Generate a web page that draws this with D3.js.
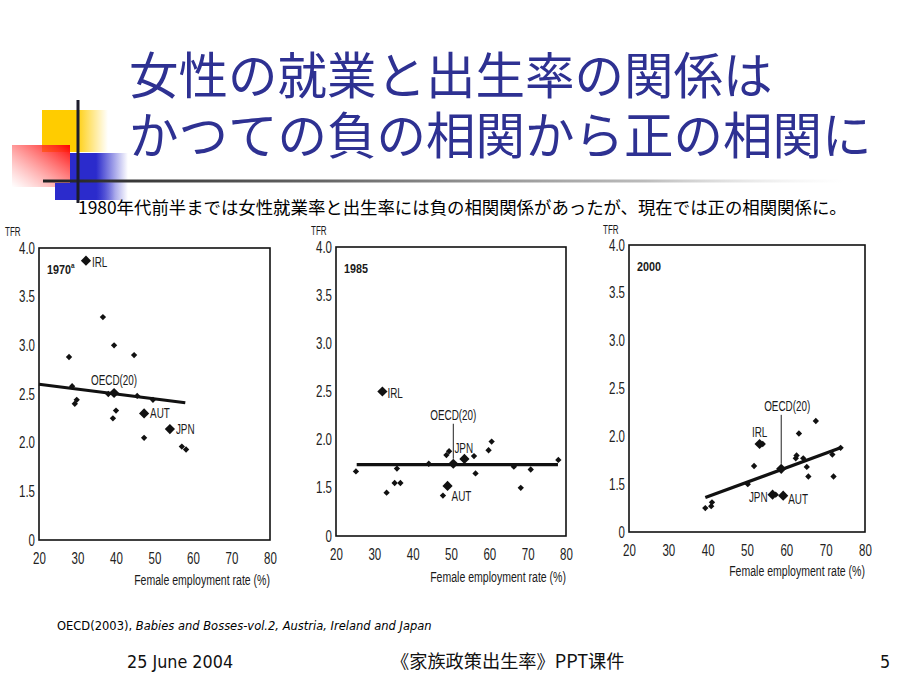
<!DOCTYPE html>
<html><head><meta charset="utf-8">
<script src="https://cdn.jsdelivr.net/npm/d3@7"></script>
<style>
html,body{margin:0;padding:0;background:#fff;}
svg{display:block;}
</style></head>
<body>
<svg id="slide" width="920" height="690"></svg>
<script>
// ---------------- data ----------------
const titleLines = ["女性の就業と出生率の関係は", "かつての負の相関から正の相関に"];
const subtitle = "1980年代前半までは女性就業率と出生率には負の相関関係があったが、現在では正の相関関係に。";
const xTicks = [20, 30, 40, 50, 60, 70, 80];
const yTicks = [1, 1.5, 2, 2.5, 3, 3.5, 4];
const yTickLabels = ["0", "1.5", "2.0", "2.5", "3.0", "3.5", "4.0"];
const years = ["1970", "1985", "2000"];
const xTitle = "Female employment rate (%)";
const yTitle = "TFR";

const pts1970 = [[36.6,3.29],[39.5,3.00],[27.8,2.88],[44.7,2.90],[28.6,2.58],[29.3,2.40],[29.8,2.44],[38.0,2.50],[40.0,2.33],[39.2,2.25],[45.5,2.48],[49.6,2.44],[47.3,2.05],[57.1,1.96],[58.2,1.93]];
const key1970 = [{c:"IRL",x:32.2,y:3.87},{c:"OECD(20)",x:39.5,y:2.51},{c:"AUT",x:47.3,y:2.30},{c:"JPN",x:54.0,y:2.14}];
const fit1970 = [[20,2.60],[58,2.41]];

const pts1985 = [[25.2,1.67],[33.2,1.45],[35.3,1.55],[36.8,1.55],[35.9,1.70],[44.2,1.75],[47.9,1.42],[48.8,1.84],[49.5,1.88],[56.0,1.83],[56.4,1.65],[59.8,1.89],[60.6,1.98],[66.4,1.72],[68.2,1.50],[70.8,1.69],[78.0,1.79]];
const key1985 = [{c:"IRL",x:32.1,y:2.50},{c:"OECD(20)",x:50.6,y:1.75},{c:"JPN",x:53.5,y:1.80},{c:"AUT",x:49.1,y:1.52}];
const fit1985 = [[25.4,1.74],[77.9,1.74]];

const pts2000 = [[39.4,1.25],[40.9,1.27],[41.1,1.31],[51.8,1.69],[50.2,1.50],[54.0,1.92],[57.3,1.39],[62.4,1.77],[62.6,1.80],[63.2,2.03],[64.3,1.77],[65.2,1.68],[65.6,1.58],[67.5,2.16],[71.7,1.81],[72.0,1.58],[73.8,1.88]];
const key2000 = [{c:"IRL",x:53.2,y:1.92},{c:"OECD(20)",x:58.7,y:1.66},{c:"JPN",x:56.5,y:1.39},{c:"AUT",x:59.2,y:1.38}];
const fit2000 = [[39.4,1.36],[73.8,1.88]];

const source = ["OECD(2003),", "Babies and Bosses-vol.2,  Austria, Ireland and Japan"];
const footer = ["25 June 2004", "《家族政策出生率》PPT课件", "5"];

// ---------------- layout ----------------
const svg = d3.select("#slide");
const defs = svg.append("defs");
function lg(id, x1, y1, x2, y2, stops){
  const g = defs.append("linearGradient").attr("id", id)
    .attr("x1", x1).attr("y1", y1).attr("x2", x2).attr("y2", y2);
  stops.forEach(s => g.append("stop").attr("offset", s[0]).attr("stop-color", s[1]).attr("stop-opacity", s[2]));
}
lg("gY", 0, 0, 1, 0, [[0, "#FFCC00", 1], [0.5, "#FFCC00", 1], [1, "#FFCC00", 0]]);
lg("gR", 1, 0, 0, 1, [[0, "#FF0000", 1], [0.15, "#F22", 0.9], [1, "#FF6666", 0]]);
lg("gB", 0, 0, 1, 0, [[0, "#2B2BCC", 1], [0.45, "#2B2BCC", 1], [1, "#2B2BCC", 0]]);
lg("gL", 0, 0, 1, 0, [[0, "#222", 1], [0.35, "#666", 1], [0.75, "#aaa", 0.8], [1, "#ddd", 0]]);

// decoration
const deco = svg.append("g");
deco.append("rect").attr("x", 42).attr("y", 110).attr("width", 66).attr("height", 42).attr("fill", "url(#gY)");
deco.append("rect").attr("x", 12).attr("y", 145).attr("width", 58).attr("height", 42).attr("fill", "url(#gR)");
deco.append("rect").attr("x", 70).attr("y", 153).attr("width", 58).attr("height", 47).attr("fill", "url(#gB)");
deco.append("rect").attr("x", 55).attr("y", 183).attr("width", 60).attr("height", 17).attr("fill", "url(#gB)");
deco.append("rect").attr("x", 43).attr("y", 179.5).attr("width", 802).attr("height", 3).attr("fill", "url(#gL)");
deco.append("rect").attr("x", 76.5).attr("y", 100).attr("width", 3).attr("height", 103).attr("fill", "#1c1c2c");

// title (one text element, two lines)
const tt = svg.append("text")
  .attr("font-family", "'Noto Sans CJK JP', sans-serif")
  .attr("font-size", 49.5).attr("fill", "#2E3192");
tt.selectAll("tspan").data(titleLines).join("tspan")
  .attr("x", 129).attr("y", (d, i) => 94 + i * 60).text(d => d);

svg.append("text").attr("x", 78).attr("y", 214)
  .attr("font-family", "'Noto Sans CJK JP', sans-serif")
  .attr("font-size", 17.4).attr("fill", "#000")
  .text(subtitle);

// condensed text helper
const SANS = "'Liberation Sans', Arial, sans-serif";
function ctext(parent, x, y, txt, size, sx, anchor, weight){
  const g = parent.append("g").attr("transform", `translate(${x},${y}) scale(${sx},1)`);
  return g.append("text").attr("text-anchor", anchor || "start")
    .attr("font-family", SANS).attr("font-size", size)
    .attr("font-weight", weight || "normal").attr("fill", "#1a1a1a").text(txt);
}

// panels
const panels = [
  {year: years[0], sup: "a", pts: pts1970, key: key1970, fit: fit1970, xr: [39, 270], yr: [540, 248], tfr: [5, 236], xlab: 585,
   lab: {IRL: [6, 6, "start"], "OECD(20)": [0, -8, "middle"], AUT: [6, 5, "start"], JPN: [6, 5, "start"]}, stem: false},
  {year: years[1], sup: "", pts: pts1985, key: key1985, fit: fit1985, xr: [336, 566], yr: [536, 247], tfr: [311, 235], xlab: 582,
   lab: {IRL: [5, 6, "start"], "OECD(20)": [0, -44, "middle"], JPN: [-10, -6, "start"], AUT: [4, 15, "start"]}, stem: true},
  {year: years[2], sup: "", pts: pts2000, key: key2000, fit: fit2000, xr: [629, 865], yr: [532, 245], tfr: [603, 234], xlab: 576,
   lab: {IRL: [0, -7, "middle"], "OECD(20)": [6, -58, "middle"], JPN: [-5, 7, "end"], AUT: [5, 8, "start"]}, stem: true}
];

const diamond = (s) => d3.symbol(d3.symbolSquare, s)();

panels.forEach(p => {
  const x = d3.scaleLinear().domain([20, 80]).range(p.xr);
  const y = d3.scaleLinear().domain([1, 4]).range(p.yr);
  const g = svg.append("g");

  g.append("rect").attr("x", p.xr[0]).attr("y", p.yr[1])
    .attr("width", p.xr[1] - p.xr[0]).attr("height", p.yr[0] - p.yr[1])
    .attr("fill", "#fff").attr("stroke", "#111").attr("stroke-width", 1.6);

  // y axis
  const ya = g.append("g").attr("transform", `translate(${p.xr[0] - 4},0)`)
    .call(d3.axisLeft(y).tickValues(yTicks).tickSize(0).tickPadding(0)
      .tickFormat((d, i) => yTickLabels[i]));
  ya.select(".domain").remove();
  ya.selectAll("text").attr("font-family", SANS).attr("font-size", 16).attr("fill", "#222")
    .attr("transform", "scale(0.72,1)");

  // x axis
  const xa = g.append("g").attr("transform", `translate(0,${p.yr[0] + 11})`)
    .call(d3.axisBottom(x).tickValues(xTicks).tickSize(0).tickPadding(2));
  xa.select(".domain").remove();
  xa.selectAll("text").attr("font-family", SANS).attr("font-size", 16).attr("fill", "#222")
    .attr("transform", "scale(0.72,1)");

  ctext(g, p.xr[1], p.xlab, xTitle, 15.5, 0.68, "end");
  ctext(g, p.tfr[0], p.tfr[1], yTitle, 13, 0.62, "start");

  const yt = ctext(g, p.xr[0] + 8, p.yr[1] + 26, p.year, 13.5, 0.8, "start", "bold");
  if (p.sup) yt.append("tspan").attr("dy", -6).attr("font-size", 8).text(p.sup);

  // fitted line
  g.append("path").datum(p.fit)
    .attr("d", d3.line().x(d => x(d[0])).y(d => y(d[1])))
    .attr("stroke", "#111").attr("stroke-width", 3.2).attr("fill", "none");

  // small points
  g.selectAll("path.pt").data(p.pts).join("path").attr("class", "pt")
    .attr("d", diamond(20))
    .attr("transform", d => `translate(${x(d[0])},${y(d[1])}) rotate(45)`)
    .attr("fill", "#111");

  // key points
  g.selectAll("path.kp").data(p.key).join("path").attr("class", "kp")
    .attr("d", diamond(52))
    .attr("transform", d => `translate(${x(d.x)},${y(d.y)}) rotate(45)`)
    .attr("fill", "#111");

  p.key.forEach(k => {
    const o = p.lab[k.c];
    const px = x(k.x), py = y(k.y);
    ctext(g, px + o[0], py + o[1], k.c, 15, 0.66, o[2]);
    if (k.c === "OECD(20)" && p.stem) {
      g.append("line").attr("x1", px).attr("x2", px).attr("y1", py + o[1] + 4).attr("y2", py - 5)
        .attr("stroke", "#222").attr("stroke-width", 1);
    }
  });
});

// source
const st = svg.append("text").attr("x", 57).attr("y", 630)
  .attr("font-family", "'DejaVu Sans', sans-serif").attr("font-size", 11.5).attr("fill", "#000");
st.append("tspan").text(source[0] + "  ");
st.append("tspan").attr("font-style", "italic").text(source[1]);

// footer
svg.append("text").attr("x", 127).attr("y", 668)
  .attr("font-family", "'DejaVu Sans Condensed', 'DejaVu Sans', sans-serif").attr("font-size", 17.8).attr("fill", "#111").text(footer[0]);
svg.append("text").attr("x", 391).attr("y", 668)
  .attr("font-family", "'Noto Sans CJK SC', sans-serif").attr("font-size", 18.2).attr("fill", "#111").text(footer[1]);
svg.append("text").attr("x", 880).attr("y", 668)
  .attr("font-family", "'DejaVu Sans Condensed', 'DejaVu Sans', sans-serif").attr("font-size", 17.8).attr("fill", "#111").text(footer[2]);
</script>
</body></html>
